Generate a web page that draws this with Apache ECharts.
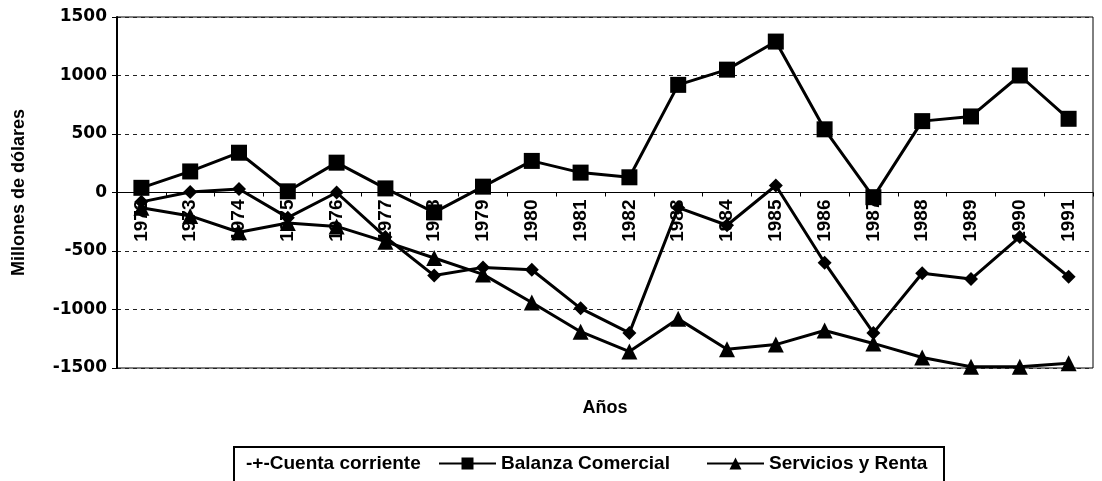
<!DOCTYPE html>
<html>
<head>
<meta charset="utf-8">
<title>Balanza de pagos 1972-1991</title>
<script src="https://cdn.jsdelivr.net/npm/echarts@6/dist/echarts.min.js"></script>
<style>
    html, body { margin: 0; padding: 0; background: #fff; }
    #chart { width: 1102px; height: 481px; }
</style>
</head>
<body>
<div id="chart"></div>
<script>
// Datos (millones de dólares)
const years = ['1972', '1973', '1974', '1975', '1976', '1977', '1978', '1979', '1980', '1981',
    '1982', '1983', '1984', '1985', '1986', '1987', '1988', '1989', '1990', '1991'];
const cuentaCorriente = [-80, 5, 30, -215, 0, -380, -710, -640, -660, -990,
    -1200, -130, -280, 60, -600, -1200, -690, -740, -380, -720];
const balanzaComercial = [40, 180, 340, 10, 255, 35, -170, 50, 270, 170,
    130, 920, 1050, 1290, 540, -40, 610, 650, 1000, 630];
const serviciosRenta = [-130, -200, -340, -260, -290, -420, -560, -700, -940, -1190,
    -1360, -1080, -1340, -1300, -1180, -1290, -1410, -1490, -1490, -1460];
const yTicks = { min: -1500, max: 1500, step: 500 };

const GRID_TOP = 17;
const GRID_BOTTOM = 113;
const PLOT_H = 481 - GRID_TOP - GRID_BOTTOM;

document.addEventListener('DOMContentLoaded', () => {
    initBalanzaChart();
});

// estilo común de las leyendas
function legendStyle(extra) {
    return Object.assign({
        top: 454,
        itemWidth: 57,
        itemHeight: 15,
        padding: 0,
        textStyle: {
            color: '#000',
            fontFamily: 'Liberation Sans',
            fontWeight: 'bold',
            fontSize: 19
        }
    }, extra);
}

function lineSeries(name, data, symbol, size) {
    return {
        name: name,
        type: 'line',
        data: data,
        symbol: symbol,
        symbolSize: size,
        lineStyle: { color: '#000', width: 3 },
        itemStyle: { color: '#000' }
    };
}

function initBalanzaChart() {
    const chart = echarts.init(document.getElementById('chart'), null, { renderer: 'canvas' });

    // el eje de categorías cruza en 0: desplazarlo desde el borde inferior
    const zeroOffset = -PLOT_H * (0 - yTicks.min) / (yTicks.max - yTicks.min);

    const option = {
        animation: false,
        backgroundColor: '#fff',
        grid: {
            left: 117,
            right: 9,
            top: GRID_TOP,
            bottom: GRID_BOTTOM,
            containLabel: false,
            outerBoundsMode: 'none',
            show: true,
            borderColor: '#000',
            borderWidth: 1
        },
        legend: [
            legendStyle({
                left: 240,
                itemWidth: 1,
                data: [{ name: 'Cuenta corriente', icon: 'none' }],
                formatter: '-+-{name}'
            }),
            legendStyle({
                left: 438,
                data: ['Balanza Comercial']
            }),
            legendStyle({
                left: 706,
                data: ['Servicios y Renta']
            })
        ],
        graphic: [{
            type: 'rect',
            shape: { x: 234, y: 447, width: 710, height: 50 },
            style: { fill: 'none', stroke: '#000', lineWidth: 2 },
            z: 10
        }],
        xAxis: {
            type: 'category',
            data: years,
            boundaryGap: true,
            offset: zeroOffset,
            name: 'Años',
            nameLocation: 'middle',
            nameGap: 207,
            nameTextStyle: {
                color: '#000',
                fontFamily: 'Liberation Sans',
                fontWeight: 'bold',
                fontSize: 18
            },
            axisLine: { onZero: false, lineStyle: { color: '#000', width: 1 } },
            axisTick: { show: true, length: 4, lineStyle: { color: '#000' } },
            axisLabel: {
                rotate: 90,
                margin: 7,
                color: '#000',
                fontFamily: 'Liberation Sans',
                fontWeight: 'bold',
                fontSize: 19
            },
            splitLine: { show: false }
        },
        yAxis: {
            type: 'value',
            min: yTicks.min,
            max: yTicks.max,
            interval: yTicks.step,
            name: 'Millones de dólares',
            nameLocation: 'middle',
            nameRotate: 90,
            nameGap: 89,
            nameTextStyle: {
                color: '#000',
                fontFamily: 'Liberation Sans',
                fontWeight: 'bold',
                fontSize: 18
            },
            axisLine: { show: true, lineStyle: { color: '#000', width: 2 } },
            axisTick: { show: true, length: 5, lineStyle: { color: '#000' } },
            axisLabel: {
                margin: 10,
                color: '#000',
                fontFamily: 'DejaVu Sans',
                fontWeight: 'bold',
                fontSize: 17,
                formatter: v => String(v)
            },
            splitLine: {
                show: true,
                lineStyle: { color: '#222', width: 1, type: [4, 4] }
            }
        },
        series: [
            lineSeries('Cuenta corriente', cuentaCorriente, 'diamond', 14),
            lineSeries('Balanza Comercial', balanzaComercial, 'rect', 16),
            lineSeries('Servicios y Renta', serviciosRenta, 'triangle', 16)
        ]
    };

    chart.setOption(option);
    window.addEventListener('resize', () => chart.resize());
}
</script>
</body>
</html>
